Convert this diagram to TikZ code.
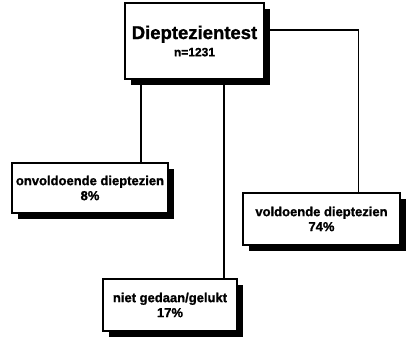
\documentclass[tikz,border=0pt]{standalone}
\usepackage{fontspec}
\setmainfont{Liberation Sans}[BoldFeatures={FakeBold=1.2}]
\usetikzlibrary{positioning, shadows, backgrounds}
\definecolor{cink}{HTML}{000000}
\tikzset{
  every picture/.style={font=\bfseries, line width=1.5pt},
  box/.style={draw=cink, fill=white, line width=1.8pt, align=center, inner sep=2pt,
    drop shadow={shadow xshift=5.5pt, shadow yshift=-5.5pt, fill=cink, opacity=1}},
  link/.style={draw=cink, line width=1.5pt},
  note/.style={font=\bfseries\fontsize{13}{15}\selectfont},
}
\begin{document}
\begin{tikzpicture}[x=1pt, y=-1pt]
  \useasboundingbox (0,0) rectangle (408,338);
  % ---- boxes
  \node[box, minimum width=139pt, minimum height=76pt] (test) at (194.5,41)
    {{\fontsize{18.5}{20}\selectfont Dieptezientest}\\[4pt]{\fontsize{12}{13}\selectfont n=1231}};
  \node[box, note, minimum width=156pt, minimum height=50pt] (onv) at (90,188)
    {onvoldoende dieptezien\\8\%};
  \node[box, note, minimum width=157pt, minimum height=52pt] (vold) at (321.5,219)
    {voldoende dieptezien\\74\%};
  \node[box, note, minimum width=134pt, minimum height=52pt] (niet) at (170,305)
    {niet gedaan/gelukt\\17\%};
  % ---- links
  \begin{scope}[on background layer]
    \draw[link] ([xshift=17pt]test.south west) -- ([xshift=17pt]test.south west |- onv.north);
    \draw[link] ([xshift=-41pt]test.south east) -- ([xshift=-41pt]test.south east |- niet.north);
    \draw[link] ([yshift=11pt]test.east) -| ([xshift=37pt]vold.north);
  \end{scope}
\end{tikzpicture}
\end{document}
